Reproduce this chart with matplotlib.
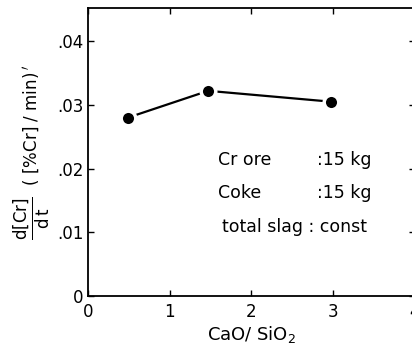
import matplotlib.pyplot as plt

plt.rcParams['font.family'] = 'DejaVu Sans'
plt.rcParams['mathtext.fontset'] = 'dejavusans'

# data
basicity = [0.49, 1.47, 2.97]
rate = [0.0280, 0.0322, 0.0305]

xticks = [0, 1, 2, 3, 4]
yticks = [0, 0.01, 0.02, 0.03, 0.04]
ytick_labels = ["0", ".01", ".02", ".03", ".04"]

conditions = ["Cr ore", "Coke", "total slag : const"]
amounts = [":15 kg", ":15 kg", ""]

fig = plt.figure(figsize=(4.12, 3.49), dpi=100)
ax = fig.add_axes([88 / 412, 53 / 349, 327 / 412, 288 / 349])

ax.plot(basicity, rate, color="black", lw=1.6, marker="o", ms=10.5,
        mfc="black", mec="white", mew=2.5)

ax.set_xlim(0, 4)
ax.set_ylim(0, 0.0452)
ax.set_xticks(xticks)
ax.set_yticks(yticks)
ax.set_yticklabels(ytick_labels)
ax.tick_params(direction="in", top=True, right=True, length=4, width=1,
               labelsize=12, pad=3)
for lab in ax.get_xticklabels():
    lab.set_y(-0.01)
for s in ax.spines.values():
    s.set_linewidth(1.3)

ax.set_xlabel(r"CaO/ SiO$_2$", fontsize=13, labelpad=2)
ax.set_ylabel(r"$\dfrac{\mathrm{d[Cr]}}{\mathrm{d\,t}}$  ( [%Cr] / min)$\,'$",
              fontsize=12, labelpad=4)

for i, (name, val) in enumerate(zip(conditions, amounts)):
    y = 0.0213 - i * 0.0052
    ax.text(1.59 if i < 2 else 1.64, y, name, fontsize=12.5, va="center")
    if val:
        ax.text(2.8, y, val, fontsize=12.5, va="center")

fig.savefig("out.png", dpi=100)
